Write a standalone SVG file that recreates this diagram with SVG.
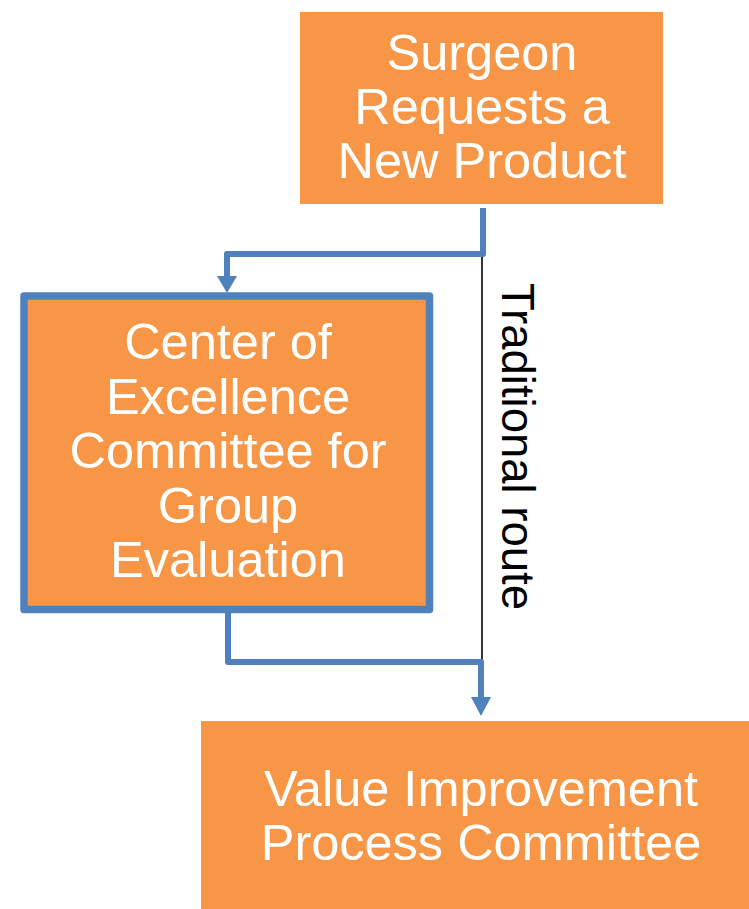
<svg xmlns="http://www.w3.org/2000/svg" width="749" height="909" viewBox="0 0 749 909">
<style>
.box{fill:#F79646}
.t{font-family:"Liberation Sans",Arial,sans-serif;font-size:50.5px;fill:#fff;text-anchor:middle}
.conn{fill:none;stroke:#4F81BD;stroke-width:6;stroke-linejoin:round}
.head{fill:#4F81BD}
</style>
<rect width="749" height="909" fill="#fff"/>
<g id="connectors">
<line x1="482" y1="253" x2="482" y2="661" stroke="#000" stroke-width="1.6"/>
<polyline class="conn" points="483,208 483,254 227,254 227,278"/>
<polygon class="head" points="217,276 237,276 227,293"/>
<polyline class="conn" points="228,612 228,662 481,662 481,699"/>
<polygon class="head" points="471,697 491,697 481,716"/>
<text transform="translate(502,446.5) rotate(90)" font-family="Liberation Sans,Arial,sans-serif" font-size="45.5" fill="#000" text-anchor="middle">Traditional route</text>
</g>
<g id="surgeon">
<rect class="box" x="300" y="12" width="363" height="192"/>
<text class="t" x="482" y="70">Surgeon</text>
<text class="t" x="482" y="124">Requests a</text>
<text class="t" x="482" y="178">New Product</text>
</g>
<g id="coe">
<rect class="box" x="24" y="296" width="405.5" height="313.5" stroke="#4F81BD" stroke-width="7.5" stroke-linejoin="round"/>
<text class="t" x="228" y="359">Center of</text>
<text class="t" x="228" y="414">Excellence</text>
<text class="t" x="228" y="468">Committee for</text>
<text class="t" x="228" y="523">Group</text>
<text class="t" x="228" y="577">Evaluation</text>
</g>
<g id="vip">
<rect class="box" x="201" y="721" width="548" height="188"/>
<text class="t" x="481" y="806">Value Improvement</text>
<text class="t" x="481" y="860">Process Committee</text>
</g>
</svg>
